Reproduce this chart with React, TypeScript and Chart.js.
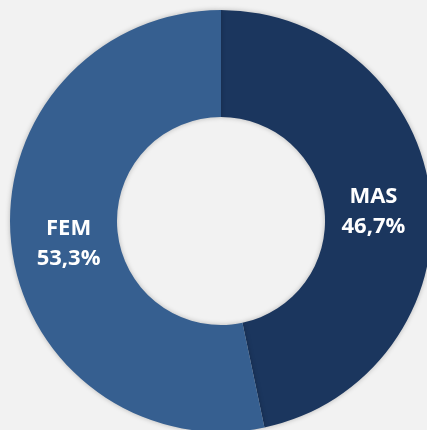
import React, { useEffect, useRef } from "react";
import { Chart, registerables } from "chart.js";

Chart.register(...registerables);

const categories = ["MAS", "FEM"];
const values = [46.7, 53.3];
const valueLabels = ["46,7%", "53,3%"];
const colors = ["#1b365e", "#365f90"];

const labelPlugin = {
  id: "sliceLabels",
  afterDatasetsDraw(chart: any) {
    const ctx = chart.ctx;
    const meta = chart.getDatasetMeta(0);
    ctx.save();
    ctx.fillStyle = "#ffffff";
    ctx.font = "bold 22px 'Open Sans', sans-serif";
    ctx.textAlign = "center";
    ctx.textBaseline = "middle";
    meta.data.forEach((arc: any) => {
      const i = meta.data.indexOf(arc);
      const mid = (arc.startAngle + arc.endAngle) / 2;
      const r = arc.innerRadius + (arc.outerRadius - arc.innerRadius) * 0.46;
      const x = arc.x + Math.cos(mid) * r;
      const y = arc.y + Math.sin(mid) * r;
      ctx.fillText(categories[i], x, y - 8);
      ctx.fillText(valueLabels[i], x, y + 22);
    });
    ctx.restore();
  },
};

const shadowPlugin = {
  id: "softShadow",
  beforeDatasetsDraw(chart: any) {
    const ctx = chart.ctx;
    ctx.save();
    ctx.shadowColor = "rgba(0,0,0,0.25)";
    ctx.shadowBlur = 5;
    ctx.shadowOffsetX = 0;
    ctx.shadowOffsetY = 0;
  },
  afterDatasetsDraw(chart: any) {
    chart.ctx.restore();
  },
};

export default function App() {
  const ref = useRef<HTMLCanvasElement>(null);
  useEffect(() => {
    document.body.style.margin = "0";
    document.body.style.background = "#f2f2f2";
    const chart = new Chart(ref.current!, {
      type: "doughnut",
      data: {
        labels: categories,
        datasets: [
          {
            data: values,
            backgroundColor: colors,
            borderWidth: 0,
          },
        ],
      },
      options: {
        animation: false,
        responsive: false,
        cutout: "49.3%",
        layout: { padding: 10 },
        plugins: {
          legend: { display: false },
          tooltip: { enabled: false },
        },
      },
      plugins: [shadowPlugin, labelPlugin],
    });
    return () => chart.destroy();
  }, []);
  return (
    <div
      style={{
        position: "fixed",
        left: 0,
        top: 0,
        width: 427,
        height: 430,
        overflow: "hidden",
        background: "#f2f2f2",
      }}
    >
      <canvas ref={ref} width={442} height={442} style={{ display: "block" }} />
    </div>
  );
}
